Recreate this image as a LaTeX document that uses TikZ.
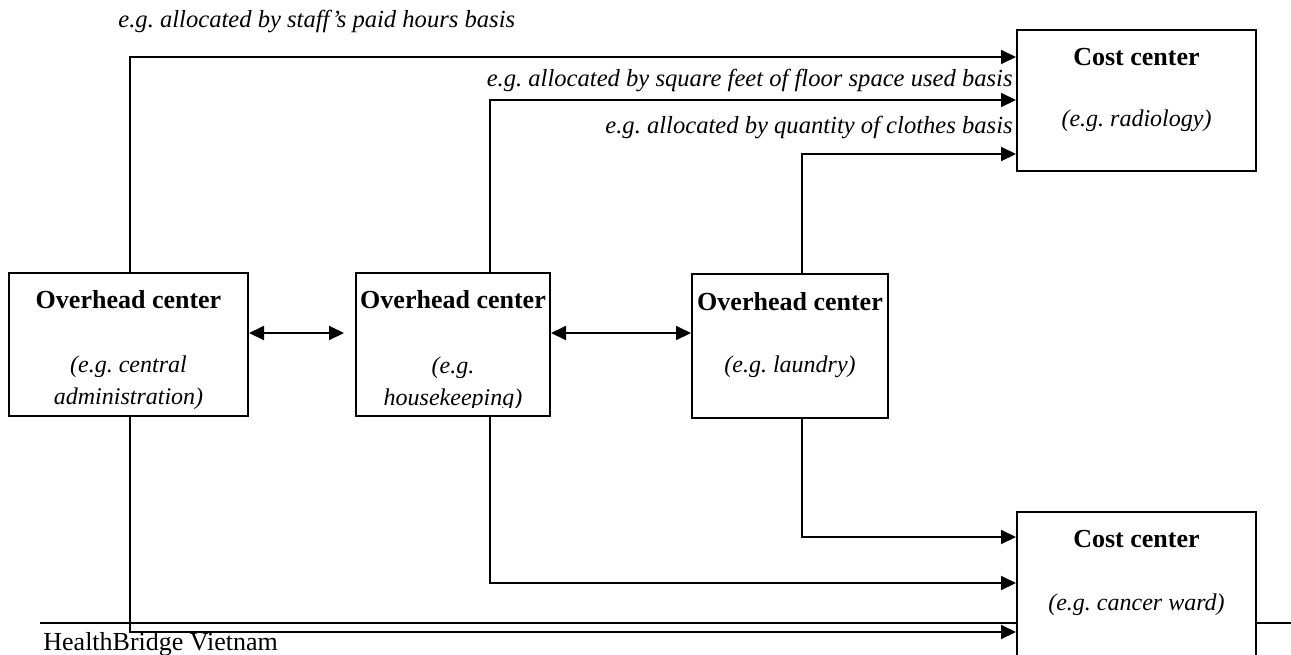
\documentclass[tikz,border=0pt]{standalone}
\usepackage{fontspec}
\setmainfont{Liberation Serif}
\usetikzlibrary{arrows.meta,fit}
\begin{document}
\frenchspacing
\begin{tikzpicture}[x=0.5pt,y=-0.5pt,
  box/.style={draw, line width=1pt, inner sep=0pt, fill=white},
  conn/.style={line width=1pt, -{Triangle[length=7.5pt,width=7pt]}},
  dconn/.style={line width=1pt, {Triangle[length=7.5pt,width=7pt]}-{Triangle[length=7.5pt,width=7pt]}},
  bt/.style={font=\fontsize{13}{15}\selectfont\bfseries, inner sep=0pt},
  it/.style={font=\fontsize{12}{14}\selectfont\itshape, inner sep=0pt},
  lt/.style={font=\fontsize{12.3}{14}\selectfont\itshape, inner sep=0pt},
  ft/.style={font=\fontsize{13}{15}\selectfont, inner sep=0pt},
  rule/.style={line width=1pt}]
\useasboundingbox (0,0) rectangle (1291,654);
% footer rule
\coordinate (r0) at (40,623);
\coordinate (r1) at (1291,623);
% boxes
\node[box, fit={(9,273) (248,416)}] (admin) {};
\node[box, fit={(356,273) (550,416)}] (hk) {};
\node[box, fit={(692,274) (888,418)}] (laun) {};
\node[box, fit={(1017,30) (1256,171)}] (costA) {};
\draw[rule] (r0) -- (r1);
\node[box, fit={(1017,512) (1256,700)}] (costB) {};
% box texts
\node[bt, anchor=base] (t1) at (128.5,308) {Overhead center};
\node[it, anchor=base] (t2) at (128.5,372) {(e.g. central};
\node[it, anchor=base] (t3) at (128.5,404) {administration)};
\node[bt, anchor=base] (t4) at (453,308) {Overhead center};
\node[it, anchor=base] (t5) at (453,373) {(e.g.};
\begin{scope}
\clip (360,380) rectangle (546,407);
\node[it, anchor=base] (t6) at (453,405) {housekeeping)};
\end{scope}
\node[bt, anchor=base] (t7) at (790,310) {Overhead center};
\node[it, anchor=base] (t8) at (790,372) {(e.g. laundry)};
\node[bt, anchor=base] (t9) at (1136.5,65) {Cost center};
\node[it, anchor=base] (t10) at (1136.5,126) {(e.g. radiology)};
\node[bt, anchor=base] (t11) at (1136.5,547) {Cost center};
\node[it, anchor=base] (t12) at (1136.5,610) {(e.g. cancer ward)};
% labels
\node[lt, anchor=base west] (l1) at (118,27) {e.g. allocated by staff’s paid hours basis};
\node[lt, anchor=base east] (l2) at (1013,86) {e.g. allocated by square feet of floor space used basis};
\node[lt, anchor=base east] (l3) at (1013,133) {e.g. allocated by quantity of clothes basis};
\node[ft, anchor=base west] (foot) at (43,650) {HealthBridge Vietnam};
% helper coordinates
\coordinate (xA) at (130,0);
\coordinate (xH) at (490,0);
\coordinate (xL) at (802,0);
\coordinate (y1) at (0,57);
\coordinate (y2) at (0,100);
\coordinate (y3) at (0,154);
\coordinate (y4) at (0,537);
\coordinate (y5) at (0,583);
\coordinate (y6) at (0,632);
\coordinate (ym) at (0,333);
% connectors
\draw[conn] (admin.north -| xA) |- (costA.west |- y1);
\draw[conn] (hk.north -| xH) |- (costA.west |- y2);
\draw[conn] (laun.north -| xL) |- (costA.west |- y3);
\draw[conn] (laun.south -| xL) |- (costB.west |- y4);
\draw[conn] (hk.south -| xH) |- (costB.west |- y5);
\draw[conn] (admin.south -| xA) |- (costB.west |- y6);
\draw[dconn, shorten >=5.5pt] (admin.east |- ym) -- (hk.west |- ym);
\draw[dconn] (hk.east |- ym) -- (laun.west |- ym);
\end{tikzpicture}
\end{document}
